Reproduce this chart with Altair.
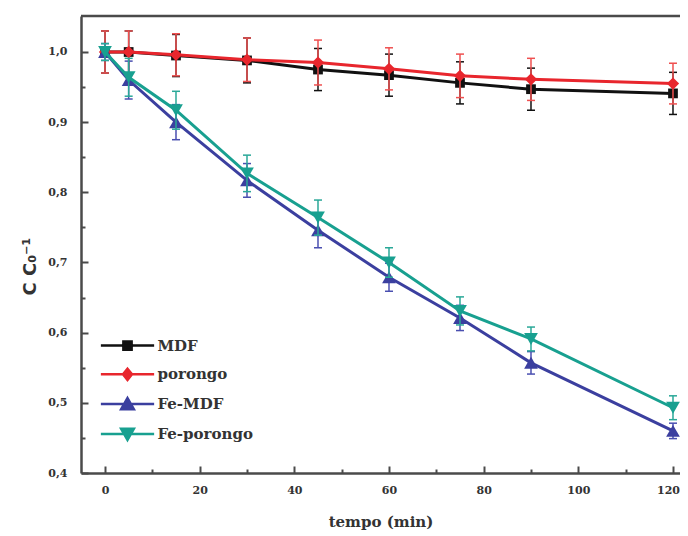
import altair as alt
import pandas as pd

# ---------------- data ----------------
times = [0, 5, 15, 30, 45, 60, 75, 90, 120]
series_names = ["MDF", "porongo", "Fe-MDF", "Fe-porongo"]

mdf = [1.000, 1.000, 0.995, 0.988, 0.975, 0.967, 0.956, 0.947, 0.941]
mdf_err = [0.030, 0.030, 0.030, 0.032, 0.030, 0.030, 0.030, 0.030, 0.030]
porongo = [1.000, 1.000, 0.996, 0.989, 0.985, 0.976, 0.966, 0.961, 0.955]
porongo_err = [0.030, 0.030, 0.030, 0.031, 0.032, 0.030, 0.031, 0.030, 0.029]
fe_mdf = [1.000, 0.960, 0.900, 0.817, 0.746, 0.679, 0.621, 0.557, 0.460]
fe_mdf_err = [0.012, 0.027, 0.025, 0.024, 0.025, 0.020, 0.018, 0.016, 0.011]
fe_porongo = [1.000, 0.964, 0.917, 0.827, 0.764, 0.700, 0.631, 0.591, 0.493]
fe_porongo_err = [0.012, 0.027, 0.027, 0.026, 0.025, 0.021, 0.020, 0.017, 0.017]

x_label_ticks = [0, 20, 40, 60, 80, 100, 120]
x_all_ticks = [0, 10, 20, 30, 40, 50, 60, 70, 80, 90, 100, 110, 120]
y_label_ticks = [0.4, 0.5, 0.6, 0.7, 0.8, 0.9, 1.0]
y_all_ticks = [0.4, 0.45, 0.5, 0.55, 0.6, 0.65, 0.7, 0.75, 0.8, 0.85, 0.9, 0.95, 1.0]

line_colors = ["#111111", "#e8262d", "#3b3f9f", "#18a090"]
err_colors = ["#111111", "#ef5050", "#4a4fb0", "#2aa898"]
point_shapes = ["square", "diamond", "triangle-up", "triangle-down"]
point_sizes = [95, 150, 190, 190]
legend_paths = [
    "M-3.55,0H3.55M-0.55,-0.55H0.55V0.55H-0.55Z",
    "M-3.55,0H3.55M0,-0.75L0.6,0L0,0.75L-0.6,0Z",
    "M-3.55,0H3.55M0,-0.8L0.85,0.7H-0.85Z",
    "M-3.55,0H3.55M0,0.8L0.85,-0.7H-0.85Z",
]

values = [mdf, porongo, fe_mdf, fe_porongo]
errors = [mdf_err, porongo_err, fe_mdf_err, fe_porongo_err]

rows = []
for name, vals, errs in zip(series_names, values, errors):
    for t, v, e in zip(times, vals, errs):
        rows.append({"series": name, "t": t, "v": v, "lo": v - e, "hi": v + e})
df = pd.DataFrame(rows)

# ---------------- layout ----------------
W, H = 599, 457
x_dom = [-5.07, 121.48]
y_dom = [0.4, 1.0513]
xs = alt.Scale(domain=x_dom, nice=False, zero=False)
ys = alt.Scale(domain=y_dom, nice=False, zero=False)

frame_color = "#4a4a4a"
label_color = "#333333"
serif = "DejaVu Serif"

x_main_axis = alt.Axis(
    orient="bottom", values=x_label_ticks, format="d", ticks=False, grid=False,
    domain=True, domainColor=frame_color, domainWidth=2.5,
    labelFont=serif, labelFontSize=11, labelFontWeight="bold", labelColor=label_color,
    labelPadding=11,
    labelOffset={"condition": {"test": "datum.value == 120", "value": -5}, "value": 0},
    title="tempo (min)", titleFont=serif, titleFontSize=15,
    titleFontWeight="bold", titleColor=label_color, titlePadding=19,
)
y_main_axis = alt.Axis(
    orient="left", values=y_label_ticks, ticks=False, grid=False,
    labelExpr="replace(format(datum.value, '.1f'), '.', ',')",
    domain=True, domainColor=frame_color, domainWidth=2.5,
    labelFont=serif, labelFontSize=11, labelFontWeight="bold", labelColor=label_color,
    labelPadding=14, title="C C\u2080\u207b\u00b9", titleFont="DejaVu Sans",
    titleFontSize=18, titleFontWeight="bold", titleColor=label_color,
    titlePadding=8, titleY=250,
)
x_tick_axis = alt.Axis(
    orient="top", offset=-H, values=x_all_ticks, labels=False, domain=False,
    grid=False, title=None, ticks=True, tickColor=frame_color, tickWidth=2,
    tickSize={"condition": {"test": "datum.value % 20 != 0", "value": 4}, "value": 7},
)
y_tick_axis = alt.Axis(
    orient="right", offset=-W, values=y_all_ticks, labels=False, domain=False,
    grid=False, title=None, ticks=True, tickColor=frame_color, tickWidth=2,
    tickSize={"condition": {"test": "abs(datum.value*10 - round(datum.value*10)) > 0.01",
                            "value": 4}, "value": 7},
)

base = alt.Chart(df)
layers = []
for i, name in enumerate(series_names):
    sub = base.transform_filter(alt.datum.series == name)
    x_ax = x_main_axis if i == 0 else None
    y_ax = y_main_axis if i == 0 else None
    line = sub.mark_line(color=line_colors[i], strokeWidth=3).encode(
        x=alt.X("t:Q", scale=xs, axis=x_ax),
        y=alt.Y("v:Q", scale=ys, axis=y_ax),
        order="t:Q",
    )
    rule = sub.mark_rule(color=err_colors[i], strokeWidth=1.5).encode(
        x=alt.X("t:Q", scale=xs, axis=None),
        y=alt.Y("lo:Q", scale=ys, axis=None),
        y2="hi:Q",
    )
    cap_lo = sub.mark_tick(color=err_colors[i], size=8, thickness=1.5,
                           orient="horizontal", opacity=1).encode(
        x=alt.X("t:Q", scale=xs, axis=None),
        y=alt.Y("lo:Q", scale=ys, axis=None),
    )
    cap_hi = sub.mark_tick(color=err_colors[i], size=8, thickness=1.5,
                           orient="horizontal", opacity=1).encode(
        x=alt.X("t:Q", scale=xs, axis=None),
        y=alt.Y("hi:Q", scale=ys, axis=None),
    )
    pts = sub.mark_point(filled=True, opacity=1, shape=point_shapes[i],
                         size=point_sizes[i], color=line_colors[i]).encode(
        x=alt.X("t:Q", scale=xs, axis=None),
        y=alt.Y("v:Q", scale=ys, axis=None),
    )
    layers += [line, rule, cap_lo, cap_hi, pts]

# inward tick marks of the frame
tick_layer = base.mark_point(opacity=0).encode(
    x=alt.X("t:Q", scale=xs, axis=x_tick_axis),
    y=alt.Y("v:Q", scale=ys, axis=y_tick_axis),
)

# top frame line
top_line = alt.Chart(pd.DataFrame({"a": [0]})).mark_rule(
    color=frame_color, strokeWidth=2.5).encode(y=alt.value(0))

# legend (no marks drawn; only its legend is used)
leg = alt.Legend(
    orient="none", legendX=37.5, legendY=320.5, title=None, padding=0, offset=0,
    labelFont=serif, labelFontWeight="bold", labelFontSize=15, labelColor=label_color,
    symbolSize=225, symbolStrokeWidth=2.5, rowPadding=7.8, labelOffset=21,
)
legend_layer = base.transform_filter("datum.t < -1000").mark_point(
    filled=True, opacity=1, strokeWidth=2.5).encode(
    x=alt.X("t:Q", scale=xs, axis=None),
    y=alt.Y("v:Q", scale=ys, axis=None),
    fill=alt.Fill("series:N", scale=alt.Scale(domain=series_names, range=line_colors), legend=leg),
    stroke=alt.Stroke("series:N", scale=alt.Scale(domain=series_names, range=line_colors), legend=leg),
    shape=alt.Shape("series:N", scale=alt.Scale(domain=series_names, range=legend_paths), legend=leg),
)

chart = alt.layer(*layers, tick_layer, top_line, legend_layer).resolve_axis(
    x="independent", y="independent"
).properties(
    width=W, height=H,
    autosize=alt.AutoSizeParams(type="none"),
    padding={"left": 73, "top": 8, "right": 0, "bottom": 60},
).configure_view(stroke=None)

chart.save("out.html", embed_options={"renderer": "svg", "actions": False})
